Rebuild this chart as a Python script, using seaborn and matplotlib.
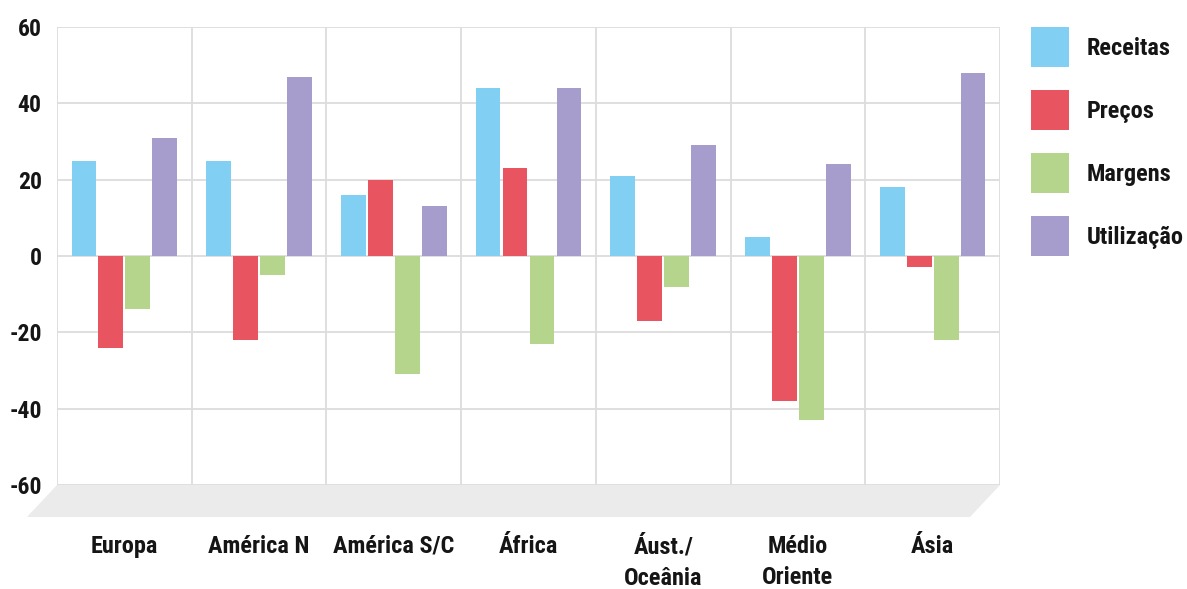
import matplotlib
matplotlib.use("Agg")
import matplotlib.pyplot as plt
from matplotlib import font_manager
from matplotlib.patches import Polygon, Rectangle
import matplotlib.transforms as mtransforms
import pandas as pd
import seaborn as sns

regions = ["Europa", "América N", "América S/C", "África",
           "Áust./\nOceânia", "Médio\nOriente", "Ásia"]
series = ["Receitas", "Preços", "Margens", "Utilização"]
receitas = [25, 25, 16, 44, 21, 5, 18]
precos = [-24, -22, 20, 23, -17, -38, -3]
margens = [-14, -5, -31, -23, -8, -43, -22]
utilizacao = [31, 47, 13, 44, 29, 24, 48]
y_ticks = [-60, -40, -20, 0, 20, 40, 60]

colors = ["#82CFF4", "#E85460", "#B5D48C", "#A69DCD"]
text_c = "#151515"

sns.set_theme(style="white")
names = {f.name for f in font_manager.fontManager.ttflist}
if "Roboto Condensed" in names:
    family, size, ysize = "Roboto Condensed", 17.5, 17
else:
    family, size, ysize = "Roboto", 16, 15.5
plt.rcParams["font.family"] = [family, "DejaVu Sans"]

df = pd.DataFrame({
    "região": regions * 4,
    "série": sum([[s] * len(regions) for s in series], []),
    "valor": receitas + precos + margens + utilizacao,
})

W, H = 1187, 589
fig = plt.figure(figsize=(W / 100, H / 100), dpi=100)
ax = fig.add_axes([57 / W, 1 - 485 / H, 943 / W, 458 / H])

sns.barplot(data=df, x="região", y="valor", hue="série", order=regions,
            hue_order=series, palette=colors, width=0.8, gap=0.08,
            saturation=1, ax=ax, legend=False, zorder=3, linewidth=0)

ax.set_ylim(-60, 60)
ax.set_xlim(-0.5, len(regions) - 0.5)
ax.set_yticks(y_ticks)
ax.set_yticklabels([str(v) for v in y_ticks])
ax.set_xlabel("")
ax.set_ylabel("")

# grid: horizontal every 20, vertical at region boundaries
grid_c = "#DCDCDC"
for v in y_ticks:
    ax.axhline(v, color=grid_c, lw=1.3, zorder=1)
for i in range(len(regions) + 1):
    ax.axvline(i - 0.5, color=grid_c, lw=1.3, zorder=1)
for s in ax.spines.values():
    s.set_visible(False)

ax.tick_params(axis="y", length=0, pad=11, labelsize=ysize, labelcolor=text_c)
ax.tick_params(axis="x", length=0, pad=36, labelsize=size, labelcolor=text_c)
for lab in ax.get_yticklabels() + ax.get_xticklabels():
    lab.set_fontweight("bold")
for lab in ax.get_xticklabels():
    lab.set_verticalalignment("top")
    lab.set_linespacing(1.45)

# grey floor under the plot area
offset = mtransforms.ScaledTranslation(-30 / 100, -32 / 100, fig.dpi_scale_trans)
t = ax.transAxes
pts_top = t.transform([(0, 0), (1, 0)])
pts_bot = (t + offset).transform([(1, 0), (0, 0)])
inv = fig.transFigure.inverted()
verts = inv.transform(list(pts_top) + list(pts_bot))
fig.patches.append(Polygon(verts, closed=True, transform=fig.transFigure,
                           facecolor="#EBEBEB", edgecolor="none", zorder=0))

# legend: colour squares with labels, stacked on the right
key_x, key_w, key_h, pitch, top0 = 1031, 38, 40, 63, 27
for i, (c, s) in enumerate(zip(colors, series)):
    top = top0 + i * pitch
    fig.patches.append(Rectangle((key_x / W, 1 - (top + key_h) / H),
                                 key_w / W, key_h / H, transform=fig.transFigure,
                                 facecolor=c, edgecolor="none"))
    fig.text(1087 / W, 1 - (top + 28) / H, s, fontsize=size, fontweight="bold",
             color=text_c, ha="left", va="baseline")

fig.savefig("out.png", dpi=100, facecolor="white")
